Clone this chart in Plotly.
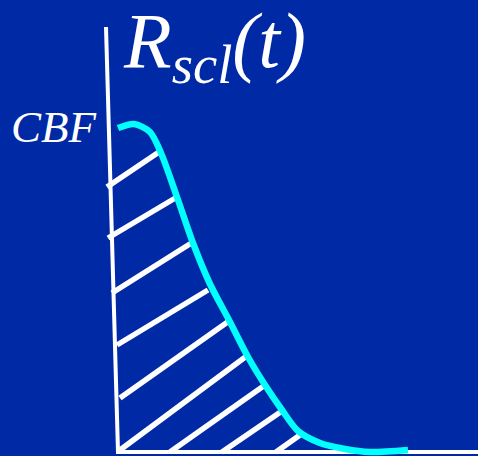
import plotly.graph_objects as go

# Diagram coordinates (pixel-like units, y grows downward)
curve_t = [118, 134, 150, 161, 177, 193, 210, 230, 248, 265, 282, 298, 320, 345, 370, 408]
curve_r = [128, 124, 132, 153, 197, 243, 284, 322, 357, 385, 410, 431, 443, 449, 452, 450]

hatch_x0 = [107, 108, 112, 117, 120, 120, 170, 222, 276]
hatch_y0 = [187, 238, 293, 345, 398, 450, 452, 452, 452]
hatch_x1 = [159, 177, 193, 208, 229, 248, 265, 282, 300]
hatch_y1 = [152, 197, 242, 290, 321, 355, 385, 411, 435]

axis_x = [106, 118, 478]
axis_y = [27, 452, 452]

title_text = "<i>R<sub>scl</sub>(t)</i>"
ylabel_text = "<i>CBF</i>"

bg = "rgb(0,41,165)"

fig = go.Figure()

# hatching
for x0, y0, x1, y1 in zip(hatch_x0, hatch_y0, hatch_x1, hatch_y1):
    fig.add_trace(go.Scatter(x=[x0, x1], y=[y0, y1], mode="lines",
                             line=dict(color="white", width=5.5), hoverinfo="skip"))

# axes
fig.add_trace(go.Scatter(x=axis_x, y=axis_y, mode="lines",
                         line=dict(color="white", width=4), hoverinfo="skip"))

# curve
fig.add_trace(go.Scatter(x=curve_t, y=curve_r, mode="lines",
                         line=dict(color="#00FFFF", width=6.5, shape="spline", smoothing=0.8),
                         hoverinfo="skip"))

fig.add_annotation(x=121, y=97, xref="x", yref="y", text=title_text, showarrow=False,
                   xanchor="left", yanchor="bottom",
                   font=dict(family="Liberation Serif", size=78, color="white"))
fig.add_annotation(x=99, y=154, xref="x", yref="y", text=ylabel_text, showarrow=False,
                   xanchor="right", yanchor="bottom",
                   font=dict(family="Liberation Serif", size=45, color="white"))

fig.update_layout(
    width=478, height=456,
    margin=dict(l=0, r=0, t=0, b=0),
    paper_bgcolor=bg, plot_bgcolor=bg,
    showlegend=False,
    xaxis=dict(range=[0, 478], visible=False, fixedrange=True),
    yaxis=dict(range=[456, 0], visible=False, fixedrange=True),
)

fig.write_html("out.html", config={"displayModeBar": False},
               post_script="document.body.style.margin='0';document.body.style.overflow='hidden';document.body.style.background='" + bg + "';")
